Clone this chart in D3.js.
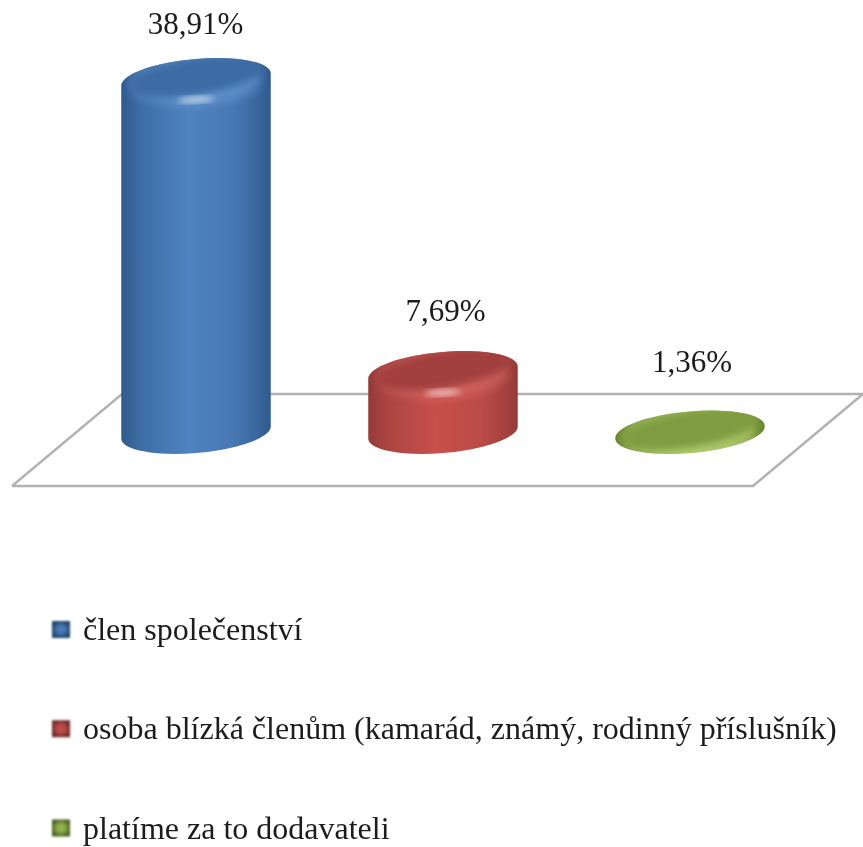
<!DOCTYPE html>
<html><head><meta charset="utf-8">
<script src="https://cdn.jsdelivr.net/npm/d3@7"></script>
<style>html,body{margin:0;background:#fff}svg{display:block}text{font-family:"Liberation Serif",serif;fill:#1c1c1c}</style>
</head><body><div id="c"></div>
<script>
const categories=["člen společenství","osoba blízká členům (kamarád, známý, rodinný příslušník)","platíme za to dodavateli"];
const values=[38.91,7.69,1.36];
const labels=["38,91%","7,69%","1,36%"];
const labelGap=[45.5,52,60];
const labelShift=[-0.5,2.5,2];
const edge=["#2f5a8c","#943a38","#66832f"],mid=["#4f82c0","#c8504c","#9cbc58"],cap=["#3d6ca4","#a23f3d","#7f9c40"],band=["#6f9fd6","#dc6f6a","#c3dc82"];
const W=863,H=847;
const svg=d3.select("#c").append("svg").attr("width",W).attr("height",H);
const defs=svg.append("defs");
const blur=(id,s)=>defs.append("filter").attr("id",id).attr("x","-30%").attr("y","-50%").attr("width","160%").attr("height","200%").append("feGaussianBlur").attr("stdDeviation",s);
blur("soft",0.7);blur("soft3",3);blur("capB",3.5);blur("line",0.5);blur("sw",1);blur("band",5);
const tf=defs.append("filter").attr("id","softT").attr("x","-5%").attr("y","-20%").attr("width","110%").attr("height","140%");
tf.append("feGaussianBlur").attr("stdDeviation",0.55);
const a=75,b=20.5,th=5,r=th*Math.PI/180;
const ex=Math.sqrt(a*a*Math.cos(r)**2+b*b*Math.sin(r)**2),d0=(a*a-b*b)*Math.sin(r)*Math.cos(r)/ex;
const x=d3.scalePoint().domain(d3.range(3)).range([196,690]);
const y=d3.scaleLinear().domain([1.3,38.91]).range([432.5,79.5]);
const outline=(d,i)=>{
  const c=x(i),t=y(d),B=y.range()[0];
  return `M${c-ex},${t+d0}L${c-ex},${B+d0}A${a},${b},${-th},0,0,${c+ex},${B-d0}L${c+ex},${t-d0}A${a},${b},${-th},0,0,${c-ex},${t+d0}Z`;
};
values.forEach((v,i)=>{
  const g=defs.append("linearGradient").attr("id","g"+i);
  const m=t=>d3.interpolateRgb(mid[i],edge[i])(t);
  [[0,edge[i]],[.12,m(.55)],[.45,mid[i]],[.75,m(.25)],[.92,m(.7)],[1,edge[i]]].forEach(s=>g.append("stop").attr("offset",s[0]).attr("stop-color",s[1]));
  const h=defs.append("radialGradient").attr("id","s"+i);
  [[0,mid[i]],[.55,d3.interpolateRgb(mid[i],edge[i])(.5)],[1,d3.interpolateRgb(edge[i],"#000")(.25)]].forEach(s=>h.append("stop").attr("offset",s[0]).attr("stop-color",s[1]));
  defs.append("clipPath").attr("id","clip"+i).append("path").attr("d",outline(v,i));
});
// floor
svg.append("path").attr("d",d3.line()([[12,486],[753,486],[863,394],[122,394],[12,486]])).attr("fill","#fff").attr("stroke","#b2b2b2").attr("stroke-width",2.4).attr("filter","url(#line)");
const bars=svg.selectAll("g.bar").data(values).join("g").attr("class","bar").attr("filter","url(#soft)");
bars.append("path").attr("fill",(d,i)=>`url(#g${i})`).attr("d",outline);
const inner=bars.append("g").attr("clip-path",(d,i)=>`url(#clip${i})`);
inner.append("ellipse").attr("rx",a-10).attr("ry",b+3).attr("fill",(d,i)=>band[i]).attr("opacity",.55).attr("filter","url(#band)")
  .attr("transform",(d,i)=>`translate(${x(i)},${y(d)+3}) rotate(-3)`);
inner.append("ellipse").attr("rx",a-6).attr("ry",b-2).attr("fill",(d,i)=>cap[i]).attr("filter","url(#capB)")
  .attr("transform",(d,i)=>`translate(${x(i)},${y(d)-3}) rotate(${-th-4})`);
inner.filter(d=>d>2).append("ellipse").attr("rx",18).attr("ry",2.5).attr("fill","#fff").attr("opacity",.8).attr("filter","url(#soft3)")
  .attr("transform",(d,i)=>`translate(${x(i)},${y(d)+20}) rotate(-3)`);
// value labels
svg.selectAll("text.val").data(labels).join("text").attr("class","val")
  .attr("x",(d,i)=>x(i)+labelShift[i]).attr("y",(d,i)=>y(values[i])-labelGap[i]).attr("text-anchor","middle").attr("font-size",31).attr("filter","url(#softT)").text(d=>d);
// legend
const ly=d3.scalePoint().domain(d3.range(3)).range([640,838.5]);
const lg=svg.selectAll("g.leg").data(categories).join("g").attr("class","leg");
lg.append("rect").attr("x",52).attr("width",18).attr("height",17).attr("y",(d,i)=>ly(i)-19).attr("fill",(d,i)=>`url(#s${i})`).attr("filter","url(#sw)");
lg.append("text").attr("x",83).attr("y",(d,i)=>ly(i)).attr("font-size",32).attr("filter","url(#softT)").text(d=>d);
</script></body></html>
